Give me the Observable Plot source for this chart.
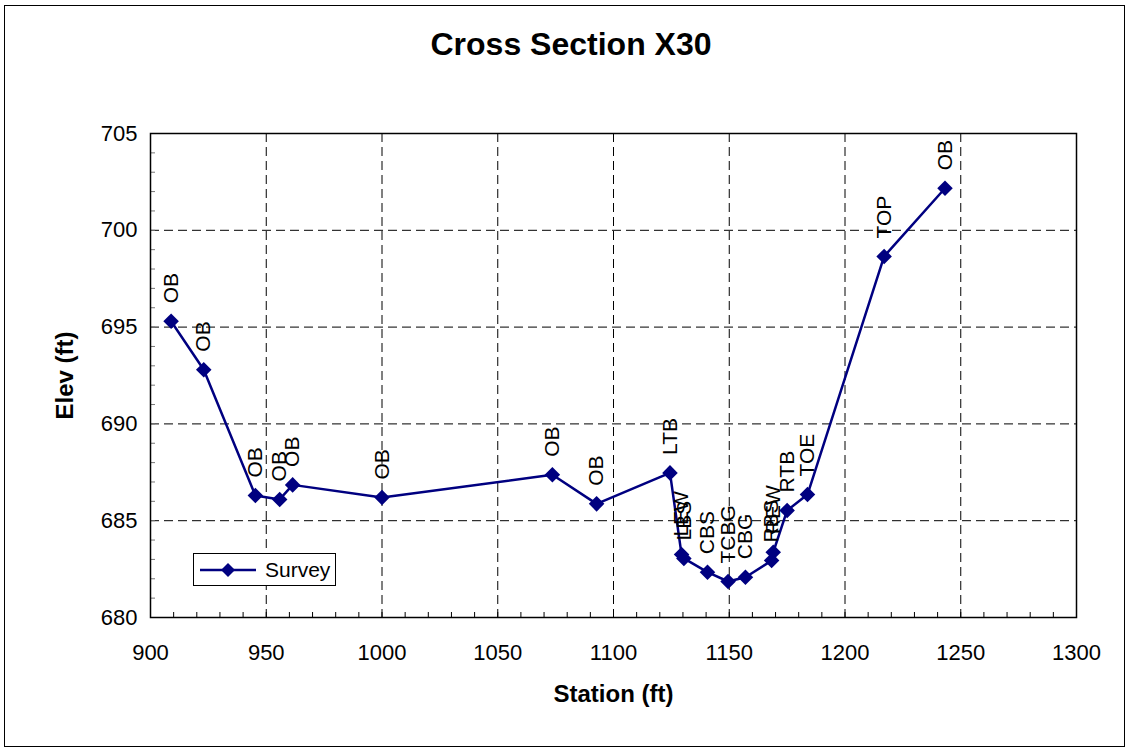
<!DOCTYPE html>
<html>
<head>
<meta charset="utf-8">
<script src="https://cdn.jsdelivr.net/npm/d3@7"></script>
<script src="https://cdn.jsdelivr.net/npm/@observablehq/plot@0.6"></script>
<style>
  html, body { margin: 0; padding: 0; background: #fff; }
  #wrap { position: relative; width: 1130px; height: 751px; overflow: hidden; font-family: "Liberation Sans", Arial, sans-serif; }
  #frame { position: absolute; left: 4px; top: 5px; width: 1121px; height: 742px; border: 1px solid #000; box-sizing: border-box; pointer-events: none; }
  #title { position: absolute; left: 0; width: 1142px; top: 26px; text-align: center; font-size: 32px; font-weight: bold; color: #000; }
  #plot { position: absolute; left: 0; top: 0; }
  #legend { position: absolute; left: 193px; top: 553px; width: 143px; height: 33px; border: 1px solid #000; box-sizing: border-box; background: #fff; display: flex; align-items: center; }
  #legend span { font-size: 21px; color: #000; margin-left: 3px; }
</style>
</head>
<body>
<div id="wrap">
  <div id="plot"></div>
  <div id="title">Cross Section X30</div>
  <div id="legend">
    <svg width="62" height="20" style="margin-left:6px"><line x1="0" y1="10" x2="56" y2="10" stroke="#000080" stroke-width="2.5"/><path d="M28,3 L35,10 L28,17 L21,10 Z" fill="#000080"/></svg>
    <span>Survey</span>
  </div>
  <div id="frame"></div>
</div>
<script>
const station = [908.9, 923.0, 945.3, 955.8, 961.4, 1000.0, 1073.6, 1092.7, 1124.4, 1129.4, 1130.4, 1140.6, 1149.5, 1157.0, 1168.3, 1169.0, 1175.0, 1183.8, 1216.9, 1243.2];
const elev = [695.3, 692.8, 686.3, 686.1, 686.85, 686.2, 687.37, 685.87, 687.47, 683.25, 683.05, 682.34, 681.86, 682.08, 682.94, 683.37, 685.53, 686.35, 698.65, 702.17];
const codes = ["OB", "OB", "OB", "OB", "OB", "OB", "OB", "OB", "LTB", "LEW", "LBS", "CBS", "TCBG", "CBG", "RBS", "REW", "RTB", "TOE", "TOP", "OB"];
const xTicks = [900, 950, 1000, 1050, 1100, 1150, 1200, 1250, 1300];
const yTicks = [680, 685, 690, 695, 700, 705];
const xMinor = d3.range(900, 1301, 10);
const yMinor = d3.range(680, 706, 1);

const data = station.map((s, i) => ({station: s, elev: elev[i], code: codes[i]}));

const chart = Plot.plot({
  width: 1130,
  height: 751,
  marginLeft: 150,
  marginRight: 54,
  marginTop: 133,
  marginBottom: 134,
  style: {fontFamily: "'Liberation Sans', Arial, sans-serif", background: "transparent", overflow: "visible"},
  x: {domain: [900, 1300]},
  y: {domain: [680, 705]},
  marks: [
    Plot.gridX(xTicks.slice(1, -1), {stroke: "#000", strokeOpacity: 1, strokeWidth: 1, strokeDasharray: "9,5"}),
    Plot.gridY(yTicks.slice(1, -1), {stroke: "#000", strokeOpacity: 1, strokeWidth: 1, strokeDasharray: "9,5"}),
    Plot.axisX(xMinor, {tickSize: -5, text: null, label: null, stroke: "#000"}),
    Plot.axisY(yMinor, {tickSize: -5, text: null, label: null, stroke: "#777"}),
    Plot.axisX(xTicks, {tickSize: 0, tickPadding: 27, fontSize: 22, fill: "#000", tickFormat: d => String(d), label: "Station (ft)", labelAnchor: "center", labelOffset: 84, labelArrow: "none"}),
    Plot.axisY(yTicks, {tickSize: 0, tickPadding: 13, fontSize: 22, fill: "#000", tickFormat: d => String(d), label: "Elev (ft)", labelAnchor: "center", labelOffset: 95, labelArrow: "none"}),
    Plot.frame({stroke: "#000", strokeWidth: 1.5}),
    Plot.line(data, {x: "station", y: "elev", stroke: "#000080", strokeWidth: 2.5}),
    Plot.dot(data, {x: "station", y: "elev", symbol: "diamond2", r: 7, fill: "#000080", stroke: "none"}),
    Plot.text(data, {x: "station", y: "elev", text: "code", rotate: -90, textAnchor: "start", lineAnchor: "middle", dy: -18, fontSize: 21, fill: "#000"})
  ]
});
document.getElementById("plot").appendChild(chart);

// style axis titles: bold, larger
chart.querySelectorAll("g[aria-label='x-axis label'] text, g[aria-label='y-axis label'] text").forEach(t => {
  t.setAttribute("font-weight", "bold");
  t.setAttribute("font-size", "24");
});
</script>
</body>
</html>
